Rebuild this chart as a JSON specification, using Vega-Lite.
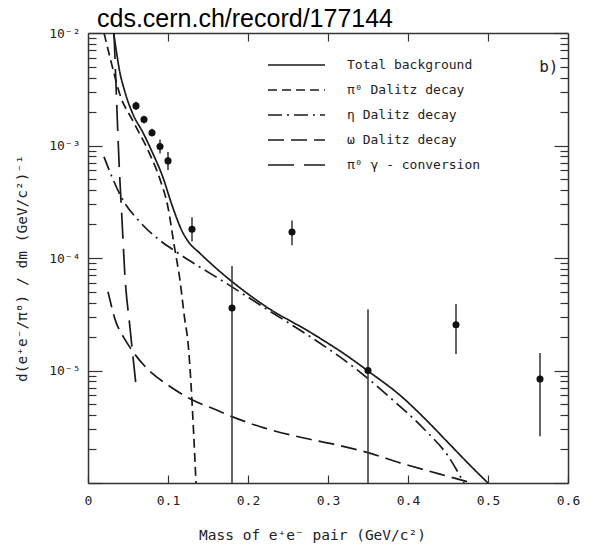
{
  "$schema": "https://vega.github.io/schema/vega-lite/v6.json",
  "width": 480,
  "height": 450,
  "autosize": {"type": "none"},
  "padding": {"left": 88, "top": 33, "right": 35, "bottom": 64},
  "background": "white",
  "view": {"stroke": null},
  "title": {
    "text": "cds.cern.ch/record/177144",
    "anchor": "start",
    "frame": "group",
    "dx": 9,
    "dy": 34,
    "offset": 4,
    "baseline": "bottom",
    "font": "Liberation Sans",
    "fontSize": 25,
    "fontWeight": "normal",
    "color": "#000"
  },
  "datasets": {
    "curves": [
      {"series": "Total background", "m": 0.032, "v": 0.01},
      {"series": "Total background", "m": 0.035, "v": 0.00724},
      {"series": "Total background", "m": 0.039, "v": 0.00479},
      {"series": "Total background", "m": 0.046, "v": 0.00302},
      {"series": "Total background", "m": 0.056, "v": 0.00191},
      {"series": "Total background", "m": 0.069, "v": 0.00129},
      {"series": "Total background", "m": 0.081, "v": 0.000851},
      {"series": "Total background", "m": 0.093, "v": 0.000537},
      {"series": "Total background", "m": 0.105, "v": 0.000295},
      {"series": "Total background", "m": 0.1175, "v": 0.000174},
      {"series": "Total background", "m": 0.125, "v": 0.000141},
      {"series": "Total background", "m": 0.14, "v": 0.00011},
      {"series": "Total background", "m": 0.16, "v": 0.0000813},
      {"series": "Total background", "m": 0.18, "v": 0.0000617},
      {"series": "Total background", "m": 0.22, "v": 0.000038},
      {"series": "Total background", "m": 0.28, "v": 0.0000214},
      {"series": "Total background", "m": 0.32, "v": 0.0000141},
      {"series": "Total background", "m": 0.355, "v": 0.00000933},
      {"series": "Total background", "m": 0.39, "v": 0.00000603},
      {"series": "Total background", "m": 0.42, "v": 0.0000038},
      {"series": "Total background", "m": 0.45, "v": 0.00000229},
      {"series": "Total background", "m": 0.48, "v": 0.00000138},
      {"series": "Total background", "m": 0.5, "v": 0.000001},

      {"series": "π⁰ Dalitz decay", "m": 0.02, "v": 0.01},
      {"series": "π⁰ Dalitz decay", "m": 0.029, "v": 0.0055},
      {"series": "π⁰ Dalitz decay", "m": 0.04, "v": 0.00282},
      {"series": "π⁰ Dalitz decay", "m": 0.056, "v": 0.00166},
      {"series": "π⁰ Dalitz decay", "m": 0.0775, "v": 0.00083},
      {"series": "π⁰ Dalitz decay", "m": 0.09, "v": 0.0005},
      {"series": "π⁰ Dalitz decay", "m": 0.1, "v": 0.000282},
      {"series": "π⁰ Dalitz decay", "m": 0.1075, "v": 0.000132},
      {"series": "π⁰ Dalitz decay", "m": 0.115, "v": 0.0000631},
      {"series": "π⁰ Dalitz decay", "m": 0.121, "v": 0.0000282},
      {"series": "π⁰ Dalitz decay", "m": 0.125, "v": 0.0000178},
      {"series": "π⁰ Dalitz decay", "m": 0.129, "v": 0.00000708},
      {"series": "π⁰ Dalitz decay", "m": 0.132, "v": 0.00000282},
      {"series": "π⁰ Dalitz decay", "m": 0.135, "v": 0.000001},

      {"series": "η Dalitz decay", "m": 0.02, "v": 0.000794},
      {"series": "η Dalitz decay", "m": 0.03, "v": 0.000525},
      {"series": "η Dalitz decay", "m": 0.0425, "v": 0.000339},
      {"series": "η Dalitz decay", "m": 0.065, "v": 0.000209},
      {"series": "η Dalitz decay", "m": 0.089, "v": 0.000145},
      {"series": "η Dalitz decay", "m": 0.109, "v": 0.000115},
      {"series": "η Dalitz decay", "m": 0.1375, "v": 0.0000851},
      {"series": "η Dalitz decay", "m": 0.174, "v": 0.0000589},
      {"series": "η Dalitz decay", "m": 0.22, "v": 0.0000363},
      {"series": "η Dalitz decay", "m": 0.28, "v": 0.0000195},
      {"series": "η Dalitz decay", "m": 0.33, "v": 0.000011},
      {"series": "η Dalitz decay", "m": 0.3775, "v": 0.00000575},
      {"series": "η Dalitz decay", "m": 0.42, "v": 0.00000302},
      {"series": "η Dalitz decay", "m": 0.45, "v": 0.00000174},
      {"series": "η Dalitz decay", "m": 0.47, "v": 0.000001},

      {"series": "ω Dalitz decay", "m": 0.025, "v": 0.0000501},
      {"series": "ω Dalitz decay", "m": 0.035, "v": 0.0000269},
      {"series": "ω Dalitz decay", "m": 0.045, "v": 0.0000195},
      {"series": "ω Dalitz decay", "m": 0.055, "v": 0.0000151},
      {"series": "ω Dalitz decay", "m": 0.075, "v": 0.0000102},
      {"series": "ω Dalitz decay", "m": 0.1, "v": 0.00000741},
      {"series": "ω Dalitz decay", "m": 0.13, "v": 0.0000055},
      {"series": "ω Dalitz decay", "m": 0.16, "v": 0.00000447},
      {"series": "ω Dalitz decay", "m": 0.18, "v": 0.00000389},
      {"series": "ω Dalitz decay", "m": 0.22, "v": 0.00000309},
      {"series": "ω Dalitz decay", "m": 0.27, "v": 0.00000251},
      {"series": "ω Dalitz decay", "m": 0.31, "v": 0.00000219},
      {"series": "ω Dalitz decay", "m": 0.35, "v": 0.00000186},
      {"series": "ω Dalitz decay", "m": 0.39, "v": 0.00000151},
      {"series": "ω Dalitz decay", "m": 0.44, "v": 0.0000012},
      {"series": "ω Dalitz decay", "m": 0.48, "v": 0.000001},

      {"series": "π⁰ γ - conversion", "m": 0.0325, "v": 0.01},
      {"series": "π⁰ γ - conversion", "m": 0.035, "v": 0.00347},
      {"series": "π⁰ γ - conversion", "m": 0.0388, "v": 0.000708},
      {"series": "π⁰ γ - conversion", "m": 0.0425, "v": 0.000219},
      {"series": "π⁰ γ - conversion", "m": 0.046, "v": 0.0000724},
      {"series": "π⁰ γ - conversion", "m": 0.0525, "v": 0.000024},
      {"series": "π⁰ γ - conversion", "m": 0.06, "v": 0.00000741}
    ],
    "points": [
      {"m": 0.06, "v": 0.00225, "lo": 0.00207, "hi": 0.00245},
      {"m": 0.07, "v": 0.0017, "lo": 0.00157, "hi": 0.00184},
      {"m": 0.08, "v": 0.0013, "lo": 0.0012, "hi": 0.00141},
      {"m": 0.09, "v": 0.00098, "lo": 0.00085, "hi": 0.00113},
      {"m": 0.1, "v": 0.00073, "lo": 0.000607, "hi": 0.000877},
      {"m": 0.13, "v": 0.00018, "lo": 0.00014, "hi": 0.00023},
      {"m": 0.18, "v": 0.000036, "lo": 0.000001, "hi": 0.000085},
      {"m": 0.255, "v": 0.00017, "lo": 0.00013, "hi": 0.000215},
      {"m": 0.35, "v": 0.00001, "lo": 0.000001, "hi": 0.000035},
      {"m": 0.46, "v": 0.0000255, "lo": 0.000014, "hi": 0.000039},
      {"m": 0.565, "v": 0.0000084, "lo": 0.0000026, "hi": 0.0000143}
    ],
    "panel": [
      {"m": 0.576, "v": 0.005, "t": "b)"}
    ]
  },
  "resolve": {"axis": {"x": "independent", "y": "independent"}},
  "layer": [
    {
      "data": {"name": "curves"},
      "mark": {"type": "line", "interpolate": "monotone", "clip": true, "strokeWidth": 1.7, "color": "#1a1a1a"},
      "encoding": {
        "x": {
          "field": "m", "type": "quantitative",
          "scale": {"domain": [0, 0.6], "nice": false, "zero": false},
          "axis": {
            "orient": "bottom",
            "values": [0, 0.1, 0.2, 0.3, 0.4, 0.5, 0.6],
            "labelExpr": "datum.value == 0 ? '0' : format(datum.value, '.1f')",
            "labelFlush": false,
            "labelOverlap": false,
            "grid": false,
            "tickSize": -8,
            "tickWidth": 1.2,
            "tickColor": "#333",
            "domainColor": "#333",
            "domainWidth": 1.5,
            "labelPadding": 19,
            "labelFont": "DejaVu Sans Mono",
            "labelFontSize": 13,
            "labelColor": "#222",
            "title": "Mass of e⁺e⁻ pair (GeV/c²)",
            "titleFont": "DejaVu Sans Mono",
            "titleFontSize": 14.5,
            "titleFontWeight": "normal",
            "titleColor": "#222",
            "titleX": 224,
            "titleY": 52,
            "titleBaseline": "middle"
          }
        },
        "y": {
          "field": "v", "type": "quantitative",
          "scale": {"type": "log", "domain": [0.000001, 0.01], "nice": false},
          "axis": {
            "orient": "left",
            "values": [0.000001, 0.000002, 0.000003, 0.000004, 0.000005, 0.000006, 0.000007, 0.000008, 0.000009,
                       0.00001, 0.00002, 0.00003, 0.00004, 0.00005, 0.00006, 0.00007, 0.00008, 0.00009,
                       0.0001, 0.0002, 0.0003, 0.0004, 0.0005, 0.0006, 0.0007, 0.0008, 0.0009,
                       0.001, 0.002, 0.003, 0.004, 0.005, 0.006, 0.007, 0.008, 0.009, 0.01],
            "labelExpr": "abs(log(datum.value)/LN10 + 2) < 0.01 ? '10⁻²' : abs(log(datum.value)/LN10 + 3) < 0.01 ? '10⁻³' : abs(log(datum.value)/LN10 + 4) < 0.01 ? '10⁻⁴' : abs(log(datum.value)/LN10 + 5) < 0.01 ? '10⁻⁵' : ''",
            "labelOverlap": false,
            "grid": false,
            "tickSize": {"condition": {"test": "abs(log(datum.value)/LN10 - round(log(datum.value)/LN10)) < 0.01", "value": -14}, "value": -8},
            "tickWidth": 1.2,
            "tickColor": "#333",
            "domainColor": "#333",
            "domainWidth": 1.5,
            "labelPadding": 22,
            "labelFont": "DejaVu Sans Mono",
            "labelFontSize": 13,
            "labelColor": "#222",
            "title": "d(e⁺e⁻/π⁰)  /  dm  (GeV/c²)⁻¹",
            "titleFont": "DejaVu Sans Mono",
            "titleFontSize": 14.5,
            "titleFontWeight": "normal",
            "titleColor": "#222",
            "titleAngle": 270,
            "titleX": -66,
            "titleY": 235,
            "titleBaseline": "middle"
          }
        },
        "strokeDash": {
          "field": "series", "type": "nominal",
          "scale": {
            "domain": ["Total background", "π⁰ Dalitz decay", "η Dalitz decay", "ω Dalitz decay", "π⁰ γ - conversion"],
            "range": [[1, 0], [9, 5], [14, 5, 2, 5], [16, 7], [26, 10]]
          },
          "legend": {
            "title": null,
            "orient": "none",
            "legendX": 179,
            "legendY": 22,
            "symbolType": "stroke",
            "symbolSize": 3249,
            "symbolStrokeWidth": 1.7,
            "symbolStrokeColor": "#1a1a1a",
            "clipHeight": 20,
            "rowPadding": 5,
            "labelOffset": 21,
            "labelFont": "DejaVu Sans Mono",
            "labelFontSize": 13,
            "labelColor": "#222"
          }
        }
      }
    },
    {
      "data": {"name": "points"},
      "mark": {"type": "rule", "clip": true, "strokeWidth": 1.5, "color": "#333"},
      "encoding": {
        "x": {
          "field": "m", "type": "quantitative",
          "scale": {"domain": [0, 0.6], "nice": false, "zero": false},
          "axis": {
            "orient": "top",
            "values": [0.1, 0.2, 0.3, 0.4, 0.5],
            "labels": false,
            "grid": false,
            "tickSize": -8,
            "tickWidth": 1.2,
            "tickColor": "#333",
            "domainColor": "#333",
            "domainWidth": 1.5,
            "title": null
          }
        },
        "y": {
          "field": "lo", "type": "quantitative",
          "scale": {"type": "log", "domain": [0.000001, 0.01], "nice": false},
          "axis": {
            "orient": "right",
            "values": [0.000001, 0.000002, 0.000003, 0.000004, 0.000005, 0.000006, 0.000007, 0.000008, 0.000009,
                       0.00001, 0.00002, 0.00003, 0.00004, 0.00005, 0.00006, 0.00007, 0.00008, 0.00009,
                       0.0001, 0.0002, 0.0003, 0.0004, 0.0005, 0.0006, 0.0007, 0.0008, 0.0009,
                       0.001, 0.002, 0.003, 0.004, 0.005, 0.006, 0.007, 0.008, 0.009, 0.01],
            "labels": false,
            "grid": false,
            "tickSize": {"condition": {"test": "abs(log(datum.value)/LN10 - round(log(datum.value)/LN10)) < 0.01", "value": -14}, "value": -8},
            "tickWidth": 1.2,
            "tickColor": "#333",
            "domainColor": "#333",
            "domainWidth": 1.5,
            "title": null
          }
        },
        "y2": {"field": "hi"}
      }
    },
    {
      "data": {"name": "points"},
      "mark": {"type": "circle", "clip": true, "size": 50, "opacity": 1, "color": "#111"},
      "encoding": {
        "x": {"field": "m", "type": "quantitative", "scale": {"domain": [0, 0.6], "nice": false, "zero": false}, "axis": null},
        "y": {"field": "v", "type": "quantitative", "scale": {"type": "log", "domain": [0.000001, 0.01], "nice": false}, "axis": null}
      }
    },
    {
      "data": {"name": "panel"},
      "mark": {"type": "text", "font": "DejaVu Sans Mono", "fontSize": 16, "color": "#222", "align": "center", "baseline": "middle"},
      "encoding": {
        "x": {"field": "m", "type": "quantitative", "scale": {"domain": [0, 0.6], "nice": false, "zero": false}, "axis": null},
        "y": {"field": "v", "type": "quantitative", "scale": {"type": "log", "domain": [0.000001, 0.01], "nice": false}, "axis": null},
        "text": {"field": "t"}
      }
    }
  ]
}
